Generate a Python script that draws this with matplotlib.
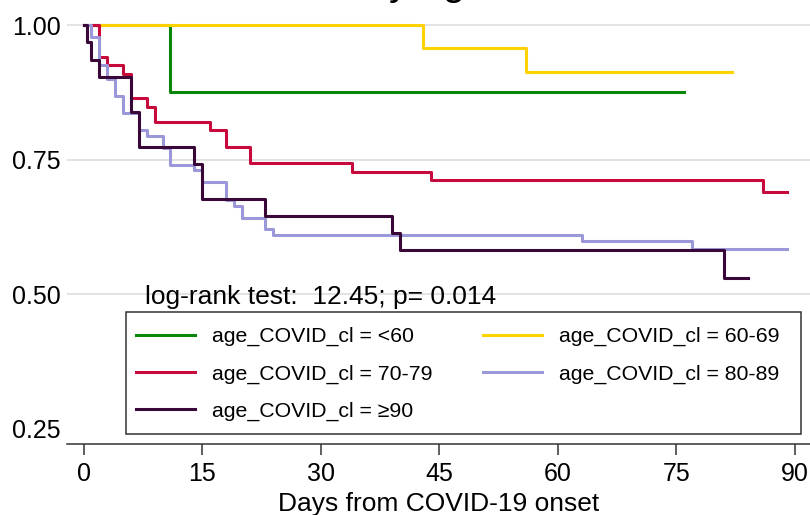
import matplotlib
matplotlib.use("Agg")
import matplotlib.pyplot as plt
from matplotlib.patches import Rectangle

plt.rcParams['font.family'] = ['Liberation Sans', 'DejaVu Sans']

# Kaplan-Meier steps (days, survival)
lt60_t = [0, 11, 76]
lt60_s = [1.0, 0.875, 0.875]

a6069_t = [0, 43, 56, 82]
a6069_s = [1.0, 0.957, 0.913, 0.913]

a7079_t = [0, 2, 3, 5, 6, 8, 9, 16, 18, 21, 34, 44, 86, 89]
a7079_s = [1.0, 0.940, 0.925, 0.909, 0.864, 0.848, 0.820, 0.804, 0.773, 0.744,
           0.727, 0.712, 0.690, 0.690]

a8089_t = [0, 1, 2, 3, 4, 5, 7, 8, 10, 11, 14, 15, 18, 19, 20, 23, 24, 63, 77, 89]
a8089_s = [1.0, 0.978, 0.926, 0.899, 0.868, 0.836, 0.805, 0.793, 0.771, 0.740,
           0.730, 0.708, 0.675, 0.664, 0.642, 0.621, 0.610, 0.599, 0.584, 0.584]

ge90_t = [0, 0.5, 1, 2, 6, 7, 14, 15, 23, 39, 40, 81, 84]
ge90_s = [1.0, 0.968, 0.935, 0.903, 0.839, 0.774, 0.742, 0.677, 0.645, 0.613,
          0.581, 0.529, 0.529]

labels = ['age_COVID_cl = <60', 'age_COVID_cl = 60-69', 'age_COVID_cl = 70-79',
          'age_COVID_cl = 80-89', 'age_COVID_cl = \u226590']
colors = ['#0a870a', '#ffd200', '#c8093c', '#9b98da', '#3a0838']
xticks = [0, 15, 30, 45, 60, 75, 90]
yticks = [0.25, 0.50, 0.75, 1.00]

fig = plt.figure(figsize=(8.1, 5.15), dpi=100)
ax = fig.add_axes([67 / 810, 71 / 515, 743 / 810, 444 / 515])

for y in [0.50, 0.75, 1.00]:
    ax.axhline(y, color='#dedede', lw=1.2, zorder=0)

series = [(lt60_t, lt60_s), (a6069_t, a6069_s), (a7079_t, a7079_s),
          (a8089_t, a8089_s), (ge90_t, ge90_s)]
lines = []
for (t, s), c, lab in zip(series, colors, labels):
    ln, = ax.step(t, s, where='post', color=c, lw=2.2, label=lab, zorder=2)
    lines.append(ln)

ax.set_xlim(-2.09, 91.9)
ax.set_ylim(0.2212, 1.0465)
ax.set_xticks(xticks)
ax.set_yticks(yticks)
ax.set_yticklabels(['%.2f' % v for v in yticks])
ax.tick_params(axis='y', length=0, pad=4.5, labelsize=18)
ax.tick_params(axis='x', length=8, width=1.1, color='#333333', pad=5, labelsize=18)
for side in ['left', 'right', 'top']:
    ax.spines[side].set_visible(False)
ax.spines['bottom'].set_color('#333333')
ax.spines['bottom'].set_linewidth(1.1)
ax.set_xlabel('Days from COVID-19 onset', fontsize=19, labelpad=4)

ax.text(7.78, 0.494, 'log-rank test:  12.45; p= 0.014', fontsize=19,
        ha='left', va='center')

# title sits mostly above the visible area, only descenders show
fig.text(212 / 810, 1 + 5 / 515, 'Survival by age', fontsize=29,
         ha='left', va='baseline')

fig.add_artist(Rectangle((125.6 / 810, 1 - 434.3 / 515), 675.4 / 810, 122 / 515,
                         transform=fig.transFigure, facecolor='white',
                         edgecolor='#333333', lw=1.1, zorder=3))

order = [0, 2, 4, 1, 3]
leg = fig.legend([lines[i] for i in order], [labels[i] for i in order],
                 loc='upper left', bbox_to_anchor=(136 / 810, 1 - 327 / 515),
                 ncol=2, frameon=False, fontsize=15.3, borderpad=0,
                 borderaxespad=0, handlelength=2.78, handletextpad=0.8,
                 columnspacing=2.35, labelspacing=0.85)
leg.set_zorder(4)

fig.savefig('out.png', dpi=100)
